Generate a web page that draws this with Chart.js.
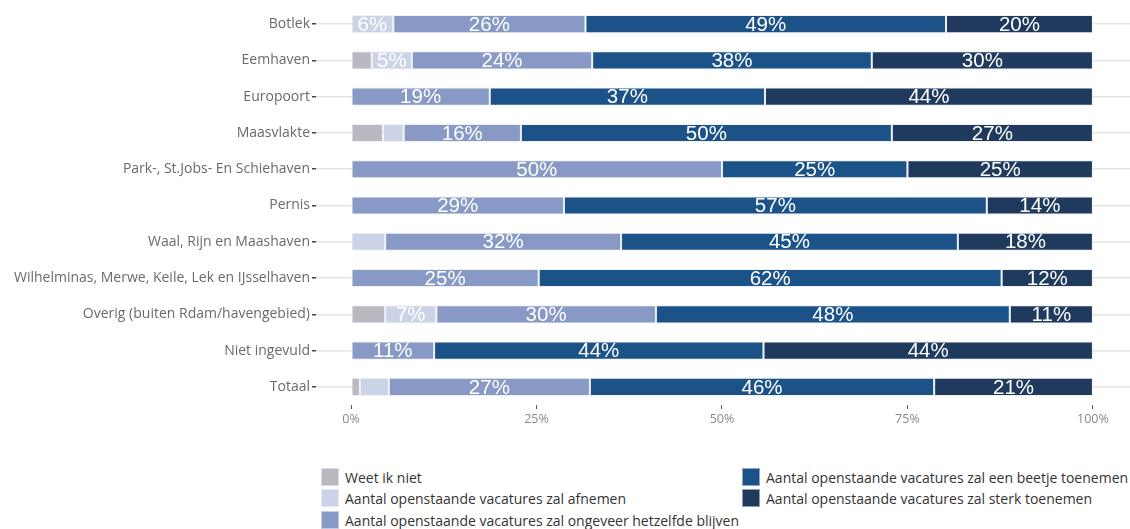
<!DOCTYPE html>
<html>
<head>
<meta charset="utf-8">
<script src="https://cdn.jsdelivr.net/npm/chart.js@4"></script>
<style>
  body { margin: 0; background: #fff; font-family: "Open Sans", sans-serif; }
  #wrap { position: relative; width: 1130px; height: 430px; }
  #legend { position: absolute; left: 321px; top: 468px; width: 809px; height: 61px; }
  .item { position: absolute; height: 19px; line-height: 19px; font-size: 14px; color: #333; white-space: nowrap; }
  .item span.box { display: inline-block; width: 18px; height: 18px; vertical-align: top; margin-right: 6px; box-sizing: border-box; border: 1px solid rgba(255,255,255,0.5); }
</style>
</head>
<body>
<div id="wrap"><canvas id="myChart"></canvas></div>
<div id="legend"></div>
<script>
//Categorieën (havengebieden)
let categories = ['Botlek', 'Eemhaven', 'Europoort', 'Maasvlakte', 'Park-, St.Jobs- En Schiehaven', 'Pernis',
    'Waal, Rijn en Maashaven', 'Wilhelminas, Merwe, Keile, Lek en IJsselhaven', 'Overig (buiten Rdam/havengebied)',
    'Niet ingevuld', 'Totaal'];

//Series (percentages)
let weetIkNiet = [0, 2.8, 0, 4.3, 0, 0, 0, 0, 4.6, 0, 1.2];
let afnemen = [5.7, 5.4, 0, 2.8, 0, 0, 4.6, 0, 6.9, 0, 3.9];
let hetzelfde = [25.9, 24.3, 18.7, 15.8, 50, 28.7, 31.8, 25.3, 29.6, 11.2, 27.1];
let beetjeToenemen = [48.6, 37.7, 37.1, 50.0, 25, 57.0, 45.4, 62.4, 47.7, 44.4, 46.4];
let sterkToenemen = [19.8, 29.8, 44.2, 27.1, 25, 14.3, 18.2, 12.3, 11.2, 44.4, 21.4];

let seriesNames = ['Weet ik niet', 'Aantal openstaande vacatures zal afnemen',
    'Aantal openstaande vacatures zal ongeveer hetzelfde blijven',
    'Aantal openstaande vacatures zal een beetje toenemen', 'Aantal openstaande vacatures zal sterk toenemen'];
let seriesData = [weetIkNiet, afnemen, hetzelfde, beetjeToenemen, sterkToenemen];
let colors = ['#bcb8c1', '#cbd3e7', '#8799c4', '#1b5389', '#1f3a5c'];

let xTicks = [0, 25, 50, 75, 100];

//Datasets
let datasets = [];
for (let i = 0; i < seriesNames.length; i++) {
    datasets.push({
        label: seriesNames[i],
        data: seriesData[i],
        backgroundColor: colors[i],
        borderColor: 'rgba(225,230,240,0.55)',
        borderWidth: 1,
        borderSkipped: false,
        barPercentage: 0.5,
        categoryPercentage: 1
    });
}

//Witte labels in de balken
const barLabels = {
    id: 'barLabels',
    afterDatasetsDraw(chart) {
        const ctx = chart.ctx;
        ctx.save();
        ctx.font = '20.5px "Liberation Sans", Arial, sans-serif';
        ctx.fillStyle = '#ffffff';
        ctx.textAlign = 'center';
        ctx.textBaseline = 'middle';
        chart.data.datasets.forEach(function (ds, i) {
            let meta = chart.getDatasetMeta(i);
            meta.data.forEach(function (bar, j) {
                let v = ds.data[j];
                if (v < 5) return;
                let p = bar.getProps(['x', 'y', 'base'], true);
                ctx.fillText(Math.round(v) + '%', (p.x + p.base) / 2, p.y + 1);
            });
        });
        ctx.restore();
    }
};

const ctx = document.getElementById('myChart').getContext('2d');
const myChart = new Chart(ctx, {
    type: 'bar',
    data: {
        labels: categories,
        datasets: datasets
    },
    plugins: [barLabels],
    options: {
        indexAxis: 'y',
        responsive: true,
        maintainAspectRatio: false,
        animation: false,
        layout: { padding: { top: 6, left: 0, right: 0, bottom: 0 } },
        plugins: {
            legend: { display: false },
            tooltip: { enabled: false }
        },
        scales: {
            x: {
                stacked: true,
                min: -4.72,
                max: 105,
                afterBuildTicks: (scale) => {
                    scale.ticks = xTicks.map(v => ({ value: v }));
                },
                border: { display: false },
                grid: { drawOnChartArea: false, drawTicks: true, tickLength: 4, tickColor: '#555', tickWidth: 1 },
                ticks: {
                    padding: 3,
                    color: '#888',
                    font: { family: 'Open Sans', size: 12.5 },
                    callback: (v) => v + '%'
                }
            },
            y: {
                stacked: true,
                afterFit: (scale) => {
                    scale.width = 316;
                    scale.paddingTop = 0;
                    scale.paddingBottom = 0;
                },
                border: { display: false },
                grid: { offset: false, color: '#e6e6e6', lineWidth: 1.5, drawTicks: true, tickLength: 4, tickColor: '#444', tickWidth: 1.5 },
                ticks: {
                    padding: 2,
                    color: '#6a6a6a',
                    font: { family: 'Open Sans', size: 14 }
                }
            }
        }
    }
});

//Legenda in twee kolommen
let legend = document.getElementById('legend');
let positions = [[0, 0], [0, 21], [0, 43], [421, 0], [421, 21]];
seriesNames.forEach(function (name, i) {
    let div = document.createElement('div');
    div.className = 'item';
    div.style.left = positions[i][0] + 'px';
    div.style.top = positions[i][1] + 'px';
    div.innerHTML = '<span class="box" style="background:' + colors[i] + '"></span>' + name;
    legend.appendChild(div);
});
</script>
</body>
</html>
